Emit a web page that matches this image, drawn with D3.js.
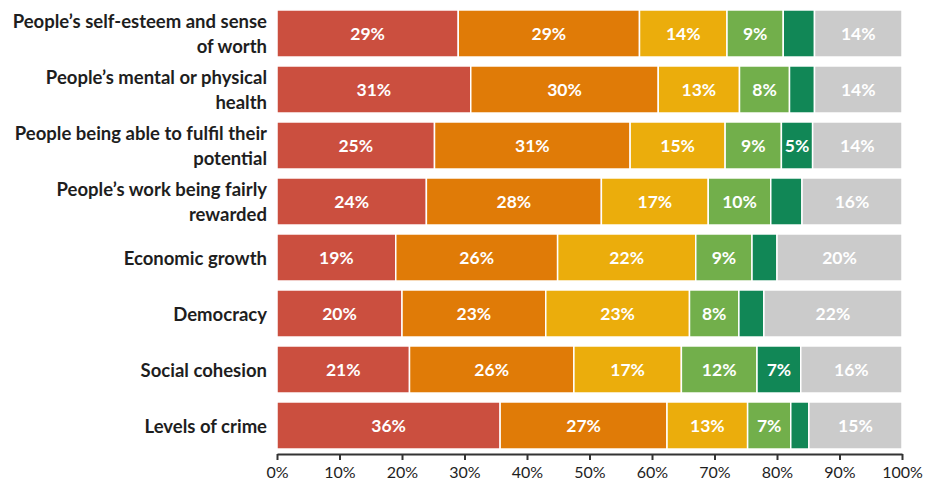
<!DOCTYPE html>
<html>
<head>
<meta charset="utf-8">
<script src="https://cdn.jsdelivr.net/npm/d3@7/dist/d3.min.js"></script>
<style>
  html, body { margin: 0; padding: 0; background: #fff; }
  svg { display: block; }
</style>
</head>
<body>
<svg id="chart" width="936" height="483"></svg>
<script>
const categories = [
  ["People’s self-esteem and sense", "of worth"],
  ["People’s mental or physical", "health"],
  ["People being able to fulfil their", "potential"],
  ["People’s work being fairly", "rewarded"],
  ["Economic growth"],
  ["Democracy"],
  ["Social cohesion"],
  ["Levels of crime"]
];
const series1 = [29, 31, 25.2, 23.9, 19, 20, 21.2, 35.7];
const series2 = [29, 30, 31.3, 28, 25.9, 23, 26.3, 26.7];
const series3 = [14, 13, 15.2, 17.1, 22.1, 23, 17.2, 12.9];
const series4 = [9, 8, 9, 10, 9, 7.9, 12.1, 6.9];
const series5 = [5, 4, 5, 5, 4, 4, 7, 2.9];
const series6 = [14, 14, 14.3, 16, 20, 22.1, 16.2, 14.9];
const labels1 = ["29%", "31%", "25%", "24%", "19%", "20%", "21%", "36%"];
const labels2 = ["29%", "30%", "31%", "28%", "26%", "23%", "26%", "27%"];
const labels3 = ["14%", "13%", "15%", "17%", "22%", "23%", "17%", "13%"];
const labels4 = ["9%", "8%", "9%", "10%", "9%", "8%", "12%", "7%"];
const labels5 = ["", "", "5%", "", "", "", "7%", ""];
const labels6 = ["14%", "14%", "14%", "16%", "20%", "22%", "16%", "15%"];
const colors = ["#CB4F3F", "#E07B07", "#EBAD0C", "#72AF4B", "#118756", "#CBCBCB"];
const tickValues = [0, 10, 20, 30, 40, 50, 60, 70, 80, 90, 100];

const seriesList = [series1, series2, series3, series4, series5, series6];
const labelList = [labels1, labels2, labels3, labels4, labels5, labels6];

const svg = d3.select("#chart");
const x = d3.scaleLinear().domain([0, 100]).range([277, 902]);
const y = d3.scaleBand().domain(d3.range(categories.length)).range([5.5, 453.5]).paddingInner(0.16).paddingOuter(0.08);

const FONT = "Lato, 'Open Sans', sans-serif";

categories.forEach((cat, i) => {
  let acc = 0;
  const g = svg.append("g");
  seriesList.forEach((s, k) => {
    const v = s[i];
    const x0 = x(acc), x1 = x(acc + v);
    g.append("rect")
      .attr("x", x0).attr("y", y(i))
      .attr("width", x1 - x0).attr("height", y.bandwidth())
      .attr("fill", colors[k])
      .attr("stroke", "#fff").attr("stroke-width", 1.5);
    const lab = labelList[k][i];
    if (lab) {
      g.append("text")
        .attr("x", (x0 + x1) / 2).attr("y", y(i) + y.bandwidth() / 2)
        .attr("text-anchor", "middle").attr("dominant-baseline", "central")
        .attr("fill", "#fff").attr("font-family", FONT).attr("font-weight", 700)
        .attr("font-size", 17.5).text(lab);
    }
    acc += v;
  });
  const cy = y(i) + y.bandwidth() / 2;
  const t = svg.append("text")
    .attr("text-anchor", "end").attr("fill", "#1e1e1e")
    .attr("font-family", FONT).attr("font-weight", 700).attr("font-size", 18.5);
  if (cat.length === 1) {
    t.append("tspan").attr("x", 267).attr("y", cy).attr("dominant-baseline", "central").text(cat[0]);
  } else {
    t.append("tspan").attr("x", 267).attr("y", cy - 12.5).attr("dominant-baseline", "central").text(cat[0]);
    t.append("tspan").attr("x", 267).attr("y", cy + 12.5).attr("dominant-baseline", "central").text(cat[1]);
  }
});

const axis = d3.axisBottom(x).tickValues(tickValues).tickFormat(d => d + "%").tickSize(6).tickSizeOuter(0);
const ax = svg.append("g").attr("transform", "translate(0,454)").call(axis);
ax.select(".domain").attr("stroke", "#333").attr("stroke-width", 2);
ax.selectAll(".tick line").attr("stroke", "#333").attr("stroke-width", 2).attr("y1", 0);
ax.selectAll(".tick text").attr("font-family", FONT).attr("font-size", 16)
  .attr("fill", "#1e1e1e").attr("dy", "0.3em").attr("y", 19);
</script>
</body>
</html>
